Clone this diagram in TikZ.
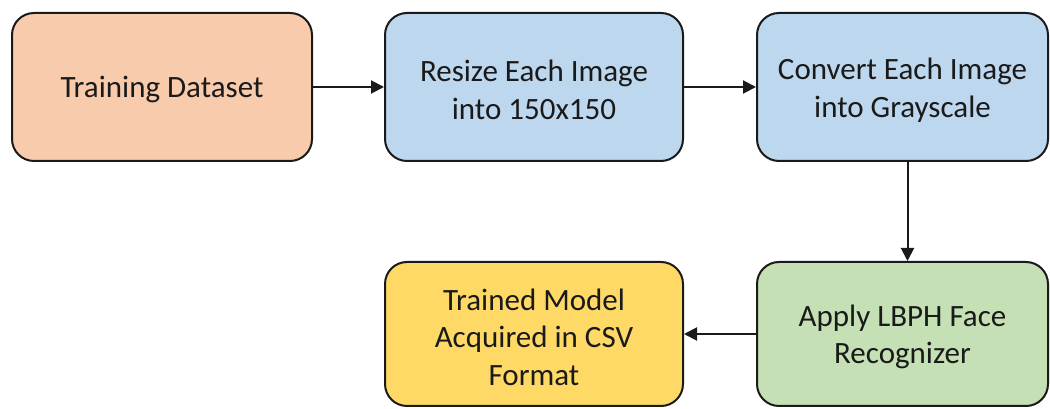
\documentclass[tikz,border=0pt]{standalone}
\usepackage{fontspec}
\setmainfont{Carlito}
\usetikzlibrary{arrows.meta}
\definecolor{peach}{HTML}{F8CBAD}
\definecolor{skyblue}{HTML}{BDD7EE}
\definecolor{sand}{HTML}{FFD966}
\definecolor{sage}{HTML}{C5E0B4}
\definecolor{ink}{HTML}{1A1A1A}
\tikzset{
  stage/.style={draw=ink, line width=2pt, rounded corners=22pt, inner sep=0pt},
  stagetext/.style={align=center, text=ink, inner sep=0pt, yshift=-3pt,
    font=\fontsize{31}{37.5}\selectfont},
  flow/.style={draw=ink, line width=2pt, -{Triangle[length=13pt,width=13pt]}}
}
\begin{document}
\begin{tikzpicture}[x=1pt,y=1pt]
  \useasboundingbox (0,0) rectangle (1050,409);
  % top row
  \node[stage, fill=peach, minimum width=300pt, minimum height=148pt,
    label={[stagetext]center:Training Dataset}] (train) at (162,322) {};
  \node[stage, fill=skyblue, minimum width=298pt, minimum height=148pt,
    label={[stagetext]center:Resize Each Image\\into 150x150}] (resize) at (534,322) {};
  \node[stage, fill=skyblue, minimum width=291pt, minimum height=148pt,
    label={[stagetext]center:Convert Each Image\\into Grayscale}] (gray) at (902.5,322) {};
  % bottom row
  \node[stage, fill=sage, minimum width=291pt, minimum height=144pt,
    label={[stagetext]center:Apply LBPH Face\\Recognizer}] (lbph) at (902.5,75) {};
  \node[stage, fill=sand, minimum width=298pt, minimum height=144pt,
    label={[stagetext]center:Trained Model\\Acquired in CSV\\Format}] (model) at (534,75) {};
  % connectors
  \draw[flow] (train) -- (resize);
  \draw[flow] (resize) -- (gray);
  \draw[flow] ([xshift=5pt]gray.south) -- ([xshift=5pt]lbph.north);
  \draw[flow] (lbph) -- (model);
\end{tikzpicture}
\end{document}
